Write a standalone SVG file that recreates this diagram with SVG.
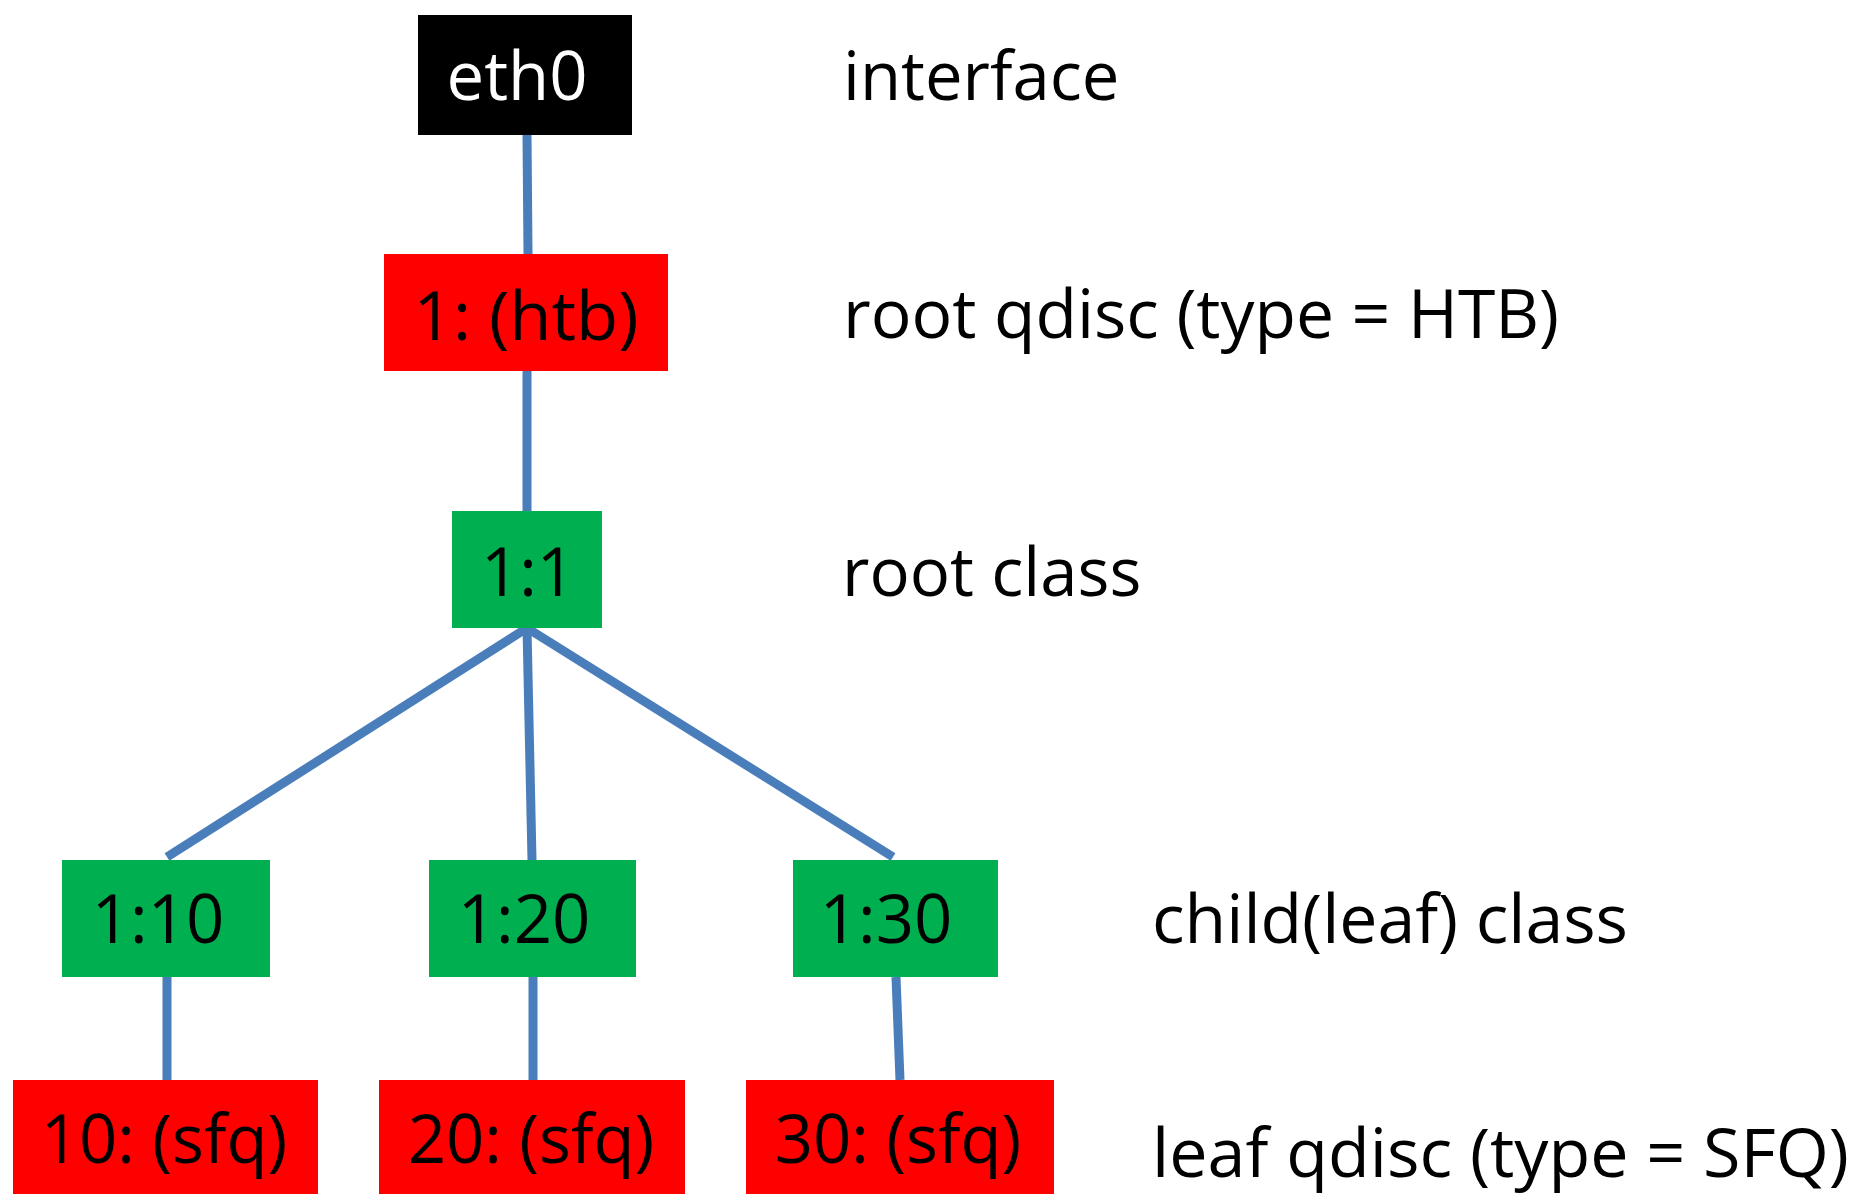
<svg xmlns="http://www.w3.org/2000/svg" width="1860" height="1194" viewBox="0 0 1860 1194">
  <style>
    text { font-family: "Open Sans", "Liberation Sans", Arial, sans-serif; font-size: 67px; fill: #000000; }
    .box-label { text-anchor: middle; }
    .white { fill: #ffffff; }
    .iface { fill: #000000; }
    .qdisc { fill: #ff0000; }
    .cls { fill: #00b050; }
    .edge { stroke: #4a7ebb; stroke-width: 9; fill: none; stroke-linecap: butt; }
  </style>
  <rect x="0" y="0" width="1860" height="1194" fill="#ffffff"/>

  <!-- tree edges -->
  <g id="connectors">
    <line class="edge" x1="527" y1="135" x2="528" y2="254"/>
    <line class="edge" x1="527" y1="371" x2="527" y2="511"/>
    <line class="edge" x1="527" y1="628" x2="167" y2="857"/>
    <line class="edge" x1="527" y1="628" x2="532" y2="860"/>
    <line class="edge" x1="527" y1="628" x2="893" y2="857"/>
    <line class="edge" x1="167" y1="977" x2="167" y2="1080"/>
    <line class="edge" x1="533" y1="977" x2="533" y2="1080"/>
    <line class="edge" x1="896" y1="977" x2="900" y2="1080"/>
  </g>

  <g id="eth0">
    <rect class="iface" x="418" y="15" width="214" height="120"/>
    <text class="box-label white" x="517" y="100">eth0</text>
  </g>

  <g id="qdisc-1">
    <rect class="qdisc" x="384" y="254" width="284" height="117"/>
    <text class="box-label" x="526" y="340" textLength="225" lengthAdjust="spacingAndGlyphs">1: (htb)</text>
  </g>

  <g id="class-1-1">
    <rect class="cls" x="452" y="511" width="150" height="117"/>
    <text class="box-label" x="528" y="596">1:1</text>
  </g>

  <g id="class-1-10">
    <rect class="cls" x="62" y="860" width="208" height="117"/>
    <text class="box-label" x="158" y="943">1:10</text>
  </g>

  <g id="class-1-20">
    <rect class="cls" x="429" y="860" width="207" height="117"/>
    <text class="box-label" x="524" y="943">1:20</text>
  </g>

  <g id="class-1-30">
    <rect class="cls" x="793" y="860" width="205" height="117"/>
    <text class="box-label" x="886" y="943">1:30</text>
  </g>

  <g id="qdisc-10">
    <rect class="qdisc" x="13" y="1080" width="305" height="120"/>
    <text class="box-label" x="164" y="1163">10: (sfq)</text>
  </g>

  <g id="qdisc-20">
    <rect class="qdisc" x="379" y="1080" width="306" height="120"/>
    <text class="box-label" x="531" y="1163">20: (sfq)</text>
  </g>

  <g id="qdisc-30">
    <rect class="qdisc" x="746" y="1080" width="308" height="120"/>
    <text class="box-label" x="898" y="1163">30: (sfq)</text>
  </g>

  <!-- level descriptions -->
  <g id="legend">
    <text x="843" y="100">interface</text>
    <text x="843" y="338" textLength="716" lengthAdjust="spacingAndGlyphs">root qdisc (type = HTB)</text>
    <text x="842" y="596">root class</text>
    <text x="1152" y="943" textLength="476" lengthAdjust="spacingAndGlyphs">child(leaf) class</text>
    <text x="1152" y="1177" textLength="697" lengthAdjust="spacingAndGlyphs">leaf qdisc (type = SFQ)</text>
  </g>
</svg>
